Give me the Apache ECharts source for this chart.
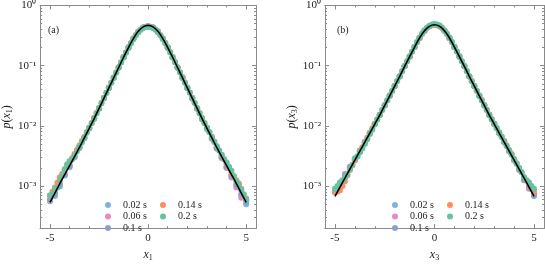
<!DOCTYPE html>
<html><head><meta charset="utf-8">
<script src="https://cdn.jsdelivr.net/npm/echarts@6/dist/echarts.min.js"></script>
<style>html,body{margin:0;padding:0;background:#fff}#c{width:545px;height:267px}</style>
</head><body><div id="c"></div>
<script>
// ---- data ----
const xs = [-5,-4.75,-4.5,-4.25,-4,-3.75,-3.5,-3.25,-3,-2.75,-2.5,-2.25,-2,-1.75,-1.5,-1.25,-1,-0.75,-0.5,-0.25,0,0.25,0.5,0.75,1,1.25,1.5,1.75,2,2.25,2.5,2.75,3,3.25,3.5,3.75,4,4.25,4.5,4.75,5];
const xsFine = [-5,-4.875,-4.75,-4.625,-4.5,-4.375,-4.25,-4.125,-4,-3.875,-3.75,-3.625,-3.5,-3.375,-3.25,-3.125,-3,-2.875,-2.75,-2.625,-2.5,-2.375,-2.25,-2.125,-2,-1.875,-1.75,-1.625,-1.5,-1.375,-1.25,-1.125,-1,-0.875,-0.75,-0.625,-0.5,-0.375,-0.25,-0.125,0,0.125,0.25,0.375,0.5,0.625,0.75,0.875,1,1.125,1.25,1.375,1.5,1.625,1.75,1.875,2,2.125,2.25,2.375,2.5,2.625,2.75,2.875,3,3.125,3.25,3.375,3.5,3.625,3.75,3.875,4,4.125,4.25,4.375,4.5,4.625,4.75,4.875,5];
const seriesNames = ['0.02 s','0.06 s','0.1 s','0.14 s','0.2 s'];
const seriesColors = ['#7db4dc','#e78ac3','#8da0cb','#fc8d62','#66c2a5'];

// panel (a): x1
const curveA = [0.000537,0.000759,0.00110,0.00155,0.00219,0.00309,0.00437,0.00631,0.00912,0.0132,0.0195,0.0288,0.0427,0.0631,0.0933,0.138,0.200,0.282,0.372,0.442,0.468,0.442,0.372,0.282,0.200,0.138,0.0933,0.0631,0.0427,0.0288,0.0195,0.0132,0.00912,0.00631,0.00437,0.00309,0.00219,0.00155,0.00110,0.000759,0.000537];
const a002 = [0.00056,0.00068,0.00098,0.00150,0.00205,0.00300,0.00430,0.00625,0.0091,0.0131,0.0193,0.0287,0.0425,0.0630,0.0930,0.137,0.199,0.280,0.368,0.432,0.450,0.431,0.369,0.281,0.198,0.137,0.0925,0.0626,0.0422,0.0284,0.0192,0.0129,0.0089,0.0061,0.0042,0.00296,0.00205,0.00148,0.00104,0.00071,0.00050];
const a006 = [0.00058,0.00080,0.00112,0.00160,0.00222,0.00312,0.0044,0.0063,0.0091,0.0132,0.0195,0.0289,0.0428,0.0634,0.0936,0.138,0.200,0.282,0.368,0.432,0.451,0.432,0.369,0.282,0.199,0.137,0.0930,0.0628,0.0424,0.0286,0.0193,0.0130,0.0090,0.0061,0.0042,0.00292,0.00200,0.00138,0.00095,0.00064,0.00058];
const a010 = [0.00060,0.00075,0.00105,0.00152,0.00215,0.00305,0.00435,0.0063,0.0092,0.0133,0.0196,0.0289,0.0428,0.0633,0.0935,0.139,0.201,0.283,0.369,0.433,0.452,0.433,0.370,0.283,0.200,0.138,0.0932,0.0630,0.0426,0.0287,0.0194,0.0131,0.0091,0.0062,0.0043,0.00300,0.00210,0.00150,0.00105,0.00074,0.00055];
const a014 = [0.00068,0.00080,0.00095,0.00115,0.00140,0.0016,0.0019,0.0022,0.0025,0.0029,0.0034,0.0040,0.0047,0.0056,0.0066,0.0079,0.0094,0.0113,0.0136,0.0165,0.0200,0.0243,0.0292,0.0356,0.0432,0.0524,0.0636,0.0775,0.0940,0.1145,0.139,0.167,0.202,0.239,0.280,0.322,0.363,0.398,0.426,0.442,0.448,0.442,0.427,0.399,0.364,0.323,0.281,0.240,0.202,0.168,0.140,0.115,0.0945,0.0780,0.0640,0.0528,0.0432,0.0358,0.0292,0.0242,0.0198,0.0163,0.0135,0.0113,0.0094,0.0079,0.0066,0.0055,0.0046,0.0039,0.00325,0.0028,0.00235,0.0020,0.00165,0.00145,0.00125,0.00110,0.00090,0.00072,0.00062];
const a020 = [0.00070,0.00072,0.00090,0.00095,0.00125,0.0015,0.0019,0.0023,0.0026,0.00275,0.0032,0.0038,0.00455,0.0053,0.0064,0.0077,0.0092,0.0110,0.0133,0.0161,0.0196,0.0238,0.0289,0.0352,0.0427,0.0518,0.0629,0.0765,0.0930,0.113,0.137,0.164,0.197,0.235,0.276,0.318,0.360,0.395,0.424,0.441,0.447,0.441,0.425,0.396,0.361,0.319,0.277,0.236,0.198,0.165,0.138,0.1135,0.0935,0.0770,0.0635,0.0522,0.0430,0.0354,0.0291,0.0240,0.0197,0.0162,0.0134,0.0111,0.0093,0.0078,0.0065,0.0054,0.0046,0.0039,0.0033,0.0028,0.00245,0.0021,0.0018,0.00145,0.0012,0.00105,0.00085,0.00072,0.00060];

// panel (b): x3
const curveB = [0.000676,0.000955,0.00135,0.00191,0.00269,0.00380,0.00537,0.00759,0.0107,0.0151,0.0219,0.0316,0.0457,0.0661,0.0977,0.141,0.204,0.288,0.380,0.452,0.479,0.452,0.380,0.288,0.204,0.141,0.0977,0.0661,0.0457,0.0316,0.0219,0.0151,0.0107,0.00759,0.00537,0.00380,0.00269,0.00191,0.00135,0.000955,0.000676];
const b002 = [0.00078,0.00100,0.00140,0.00195,0.00270,0.00380,0.0054,0.0076,0.0107,0.0151,0.0218,0.0315,0.0455,0.0660,0.0975,0.141,0.204,0.288,0.380,0.452,0.478,0.452,0.380,0.288,0.204,0.141,0.0975,0.0658,0.0455,0.0314,0.0217,0.0150,0.0106,0.0075,0.0053,0.00375,0.00265,0.00185,0.00130,0.00090,0.00068];
const b006 = [0.00080,0.00105,0.00160,0.00210,0.00275,0.00385,0.0054,0.0076,0.0107,0.0152,0.0219,0.0316,0.0457,0.0661,0.0977,0.141,0.204,0.288,0.381,0.453,0.480,0.453,0.381,0.289,0.205,0.142,0.0978,0.0662,0.0457,0.0316,0.0219,0.0151,0.0107,0.0076,0.0054,0.00380,0.00268,0.00188,0.00128,0.00092,0.00075];
const b010 = [0.00082,0.00098,0.00150,0.00205,0.00272,0.00382,0.0054,0.0076,0.0107,0.0152,0.0219,0.0316,0.0457,0.0661,0.0976,0.141,0.204,0.288,0.380,0.452,0.479,0.452,0.380,0.288,0.204,0.141,0.0977,0.0661,0.0457,0.0317,0.0220,0.0153,0.0108,0.0077,0.0055,0.00390,0.00275,0.00192,0.00125,0.00100,0.00070];
const b014 = [0.00082,0.00080,0.00085,0.00100,0.00120,0.0015,0.00185,0.0022,0.00265,0.0031,0.00375,0.0044,0.0053,0.0064,0.0077,0.0091,0.0108,0.0129,0.0153,0.0184,0.0221,0.0265,0.0318,0.0383,0.0460,0.0554,0.0665,0.0808,0.0980,0.118,0.142,0.171,0.205,0.245,0.289,0.336,0.381,0.421,0.452,0.471,0.478,0.471,0.452,0.421,0.381,0.337,0.290,0.246,0.206,0.172,0.143,0.119,0.0985,0.0815,0.0668,0.0556,0.0462,0.0385,0.0320,0.0268,0.0222,0.0186,0.0154,0.0130,0.0109,0.0092,0.0078,0.0066,0.0056,0.0047,0.00395,0.0034,0.0028,0.0024,0.0020,0.0017,0.0014,0.00122,0.00105,0.00092,0.00080];
const b020 = [0.00090,0.00100,0.00115,0.00125,0.00135,0.00155,0.0019,0.00225,0.0029,0.0031,0.0036,0.0042,0.0050,0.0060,0.0073,0.0086,0.0105,0.0126,0.0152,0.0184,0.0221,0.0266,0.0320,0.0384,0.0462,0.0556,0.0668,0.0812,0.0987,0.119,0.143,0.172,0.207,0.248,0.293,0.341,0.387,0.429,0.462,0.484,0.492,0.485,0.463,0.430,0.388,0.342,0.294,0.249,0.207,0.172,0.143,0.119,0.0985,0.0810,0.0665,0.0553,0.0460,0.0382,0.0318,0.0265,0.0220,0.0183,0.0152,0.0128,0.0108,0.0091,0.0077,0.0065,0.0055,0.0046,0.0039,0.0033,0.0028,0.00235,0.00200,0.00170,0.00140,0.00125,0.00115,0.00100,0.00090];

const xMajorTicks = [-5,0,5];
const xMinorTicks = [-4,-3,-2,-1,1,2,3,4];
const yMajorTicks = [0.001,0.01,0.1,1];
const yMinorTicks = [0.0002,0.0003,0.0004,0.0005,0.0006,0.0007,0.0008,0.0009,0.002,0.003,0.004,0.005,0.006,0.007,0.008,0.009,0.02,0.03,0.04,0.05,0.06,0.07,0.08,0.09,0.2,0.3,0.4,0.5,0.6,0.7,0.8,0.9];
const yTickLabels = {0.001:'10⁻³',0.01:'10⁻²',0.1:'10⁻¹',1:'10⁰'};
const panelLabels = ['(a)','(b)'];
const xNames = ['1','3'];

// ---- chart ----
const FONT = 'Liberation Serif';
const AX = '#8a8a8a';
const chart = echarts.init(document.getElementById('c'), null, {renderer:'canvas'});
const grids = [
  {left:38, top:5, width:218, height:234},
  {left:325, top:5, width:219, height:234}
];
const xAxis = [], yAxis = [], series = [], legend = [], graphic = [];
const richName = {
  i:{fontFamily:FONT, fontStyle:'italic', fontSize:12, color:'#222'},
  n:{fontFamily:FONT, fontSize:12, color:'#222'},
  s:{fontFamily:FONT, fontSize:8, color:'#222', padding:[6,0,0,0]}
};
const seriesData = [[a002,a006,a010,a014,a020],[b002,b006,b010,b014,b020]];
const seriesX = [xs, xs, xs, xsFine, xsFine];
const curves = [curveA, curveB];
for (let p=0;p<2;p++){
  const base = {gridIndex:p, type:'value', min:-5.5, max:5.5, splitLine:{show:false},
    axisLine:{show:true, onZero:false, lineStyle:{color:AX, width:1}}};
  xAxis.push(Object.assign({}, base, {position:'bottom',
    name:'{i|x}{s|'+xNames[p]+'}', nameLocation:'middle', nameGap:15,
    nameTextStyle:{rich:richName},
    axisTick:{show:true, inside:true, length:4, customValues:xMajorTicks, lineStyle:{color:AX}},
    axisLabel:{show:true, customValues:xMajorTicks, margin:5, fontFamily:FONT, fontSize:11, color:'#222',
      formatter:v=> (v<0?'-':'')+Math.abs(v)}}));
  xAxis.push(Object.assign({}, base, {position:'bottom',
    axisTick:{show:true, inside:true, length:2, customValues:xMinorTicks, lineStyle:{color:AX}},
    axisLabel:{show:false}}));
  xAxis.push(Object.assign({}, base, {position:'top',
    axisTick:{show:true, inside:true, length:4, customValues:xMajorTicks, lineStyle:{color:AX}},
    axisLabel:{show:false}}));
  xAxis.push(Object.assign({}, base, {position:'top',
    axisTick:{show:true, inside:true, length:2, customValues:xMinorTicks, lineStyle:{color:AX}},
    axisLabel:{show:false}}));
  const ybase = {gridIndex:p, type:'log', logBase:10, min:0.0002, max:1, splitLine:{show:false},
    axisLine:{show:true, onZero:false, lineStyle:{color:AX, width:1}}};
  yAxis.push(Object.assign({}, ybase, {position:'left',
    name:'{i|p}{n|(}{i|x}{s|'+xNames[p]+'}{n|)}', nameLocation:'middle', nameGap:24, nameRotate:90,
    nameTextStyle:{rich:richName},
    axisTick:{show:true, inside:true, length:4, customValues:yMajorTicks, lineStyle:{color:AX}},
    axisLabel:{show:true, customValues:yMajorTicks, margin:4, fontFamily:FONT, fontSize:11, color:'#222',
      formatter:v=>yTickLabels[+v]}}));
  yAxis.push(Object.assign({}, ybase, {position:'left',
    axisTick:{show:true, inside:true, length:2, customValues:yMinorTicks, lineStyle:{color:AX}},
    axisLabel:{show:false}}));
  yAxis.push(Object.assign({}, ybase, {position:'right',
    axisTick:{show:true, inside:true, length:4, customValues:yMajorTicks, lineStyle:{color:AX}},
    axisLabel:{show:false}}));
  yAxis.push(Object.assign({}, ybase, {position:'right',
    axisTick:{show:true, inside:true, length:2, customValues:yMinorTicks, lineStyle:{color:AX}},
    axisLabel:{show:false}}));
  const xi = p*4, yi = p*4;
  for (let s=0;s<5;s++){
    const sx = seriesX[s];
    series.push({type:'scatter', name:seriesNames[s], xAxisIndex:xi, yAxisIndex:yi,
      symbol:'circle', symbolSize:6, itemStyle:{color:seriesColors[s], opacity:1},
      data: sx.map((x,k)=>[x, seriesData[p][s][k]]), z:2+s});
  }
  series.push({type:'line', name:'fit', xAxisIndex:xi, yAxisIndex:yi, smooth:true, showSymbol:false,
    lineStyle:{color:'#000', width:1.6}, data: xs.map((x,k)=>[x, curves[p][k]]), z:10});
  const lx = p===0 ? 105 : 392;
  const legCommon = {orient:'vertical', align:'left', top:200, itemWidth:6, itemHeight:6, itemGap:1.5, icon:'circle',
    textStyle:{fontFamily:FONT, fontSize:10, color:'#222', padding:[0,0,0,7], lineHeight:10}, selectedMode:false, padding:0};
  legend.push(Object.assign({}, legCommon, {left:lx, data:seriesNames.slice(0,3)}));
  legend.push(Object.assign({}, legCommon, {left:lx+55, data:seriesNames.slice(3)}));
  graphic.push({type:'text', left: p===0? 48 : 337, top: 25,
    style:{text:panelLabels[p], fontFamily:FONT, fontSize:10, fill:'#222'}});
}
chart.setOption({animation:false, backgroundColor:'#fff', grid:grids, xAxis, yAxis, series, legend, graphic});
</script></body></html>
